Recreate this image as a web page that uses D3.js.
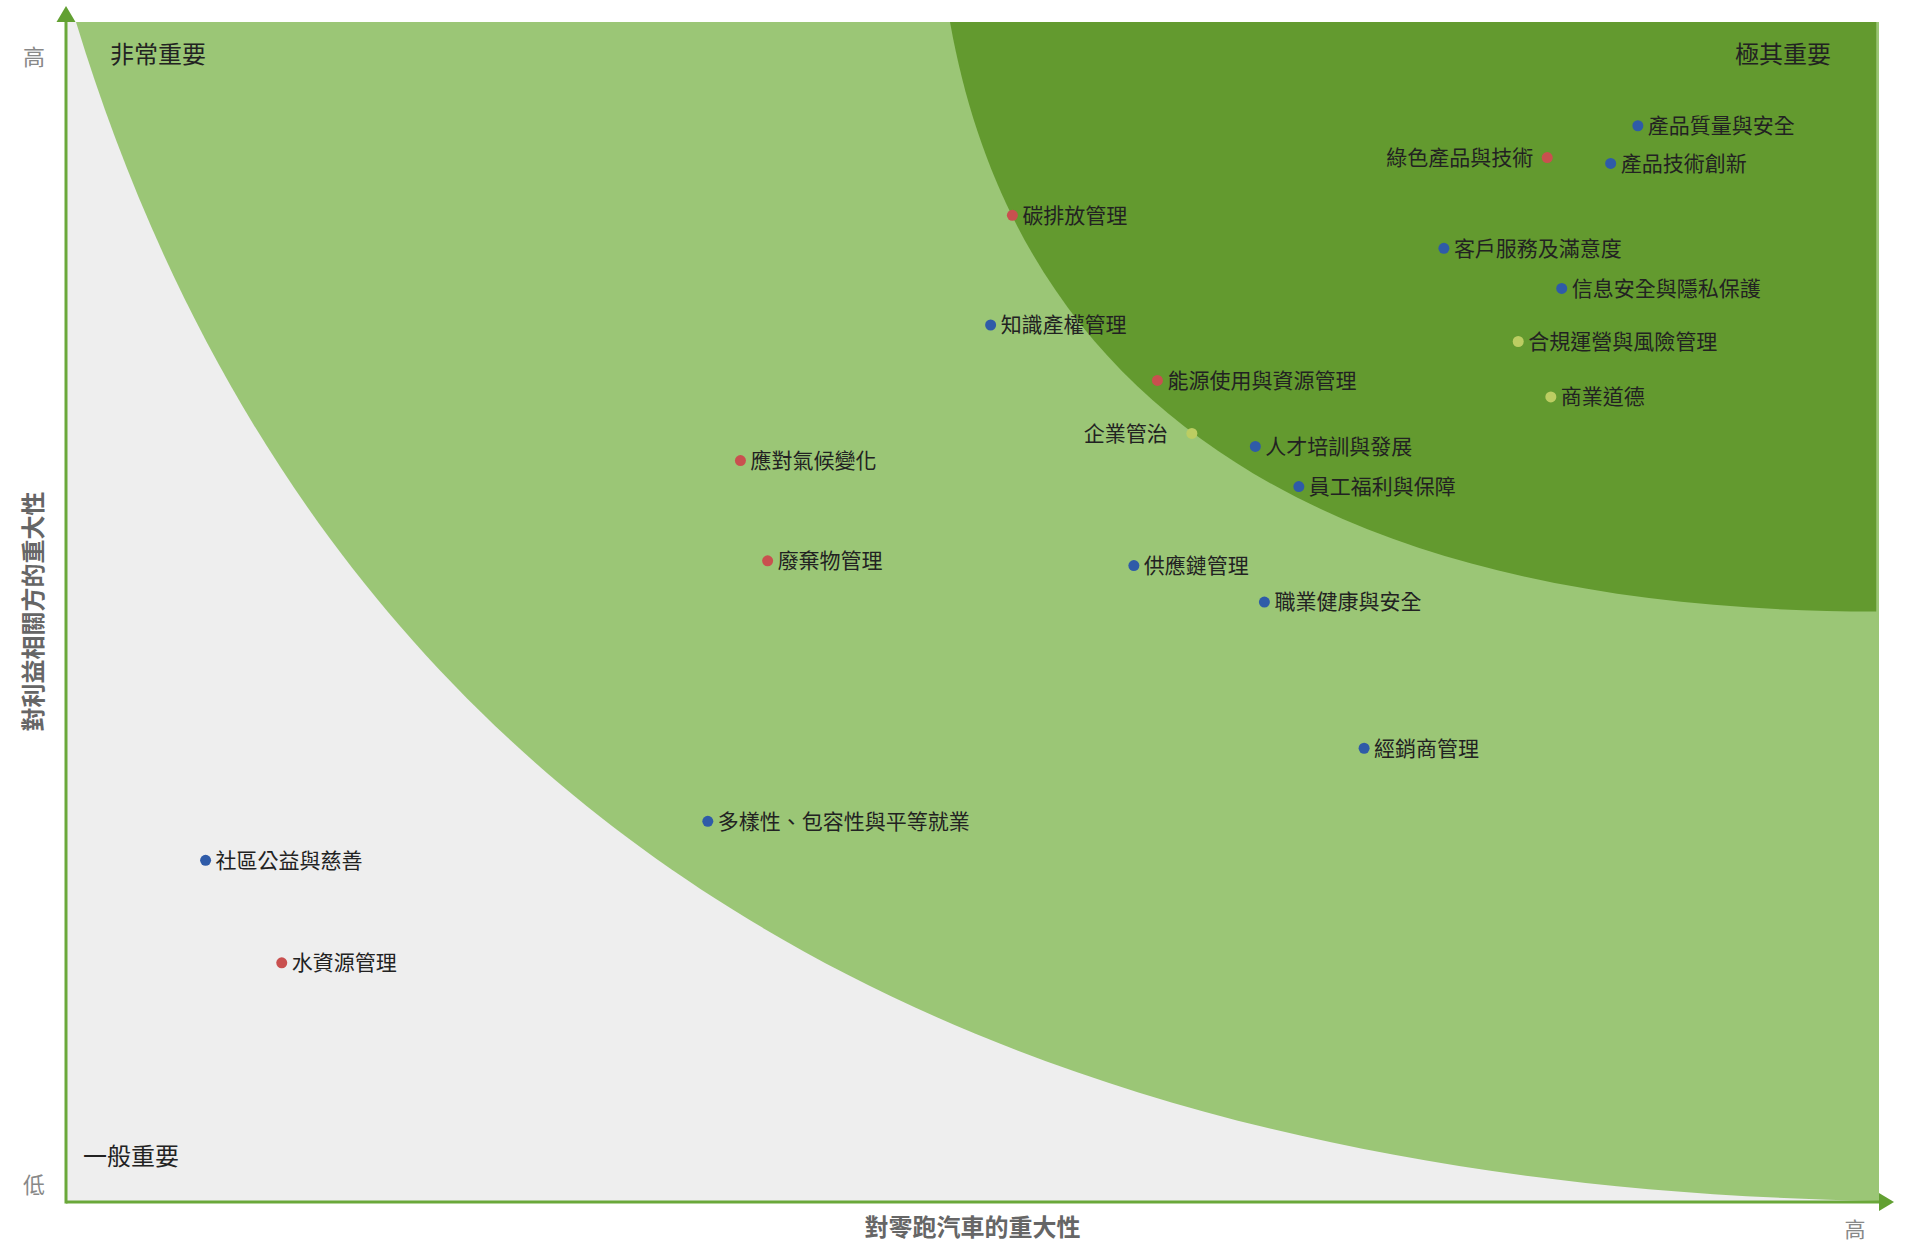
<!DOCTYPE html>
<html>
<head>
<meta charset="utf-8">
<script src="https://cdn.jsdelivr.net/npm/d3@7"></script>
<style>
  body { margin: 0; background: #fff; }
  text { font-family: "Noto Sans CJK TC", "Noto Sans", sans-serif; }
</style>
</head>
<body>
<svg id="grafico"></svg>
<script>
// temas e valores (escala 0-10 nos dois eixos)
const temas = [
  '產品質量與安全', '產品技術創新', '綠色產品與技術', '客戶服務及滿意度', '信息安全與隱私保護',
  '合規運營與風險管理', '商業道德', '碳排放管理', '知識產權管理', '能源使用與資源管理',
  '企業管治', '人才培訓與發展', '員工福利與保障', '應對氣候變化', '廢棄物管理',
  '供應鏈管理', '職業健康與安全', '經銷商管理', '多樣性、包容性與平等就業', '社區公益與慈善',
  '水資源管理'
];
const valoresX = [8.67, 8.52, 8.17, 7.60, 8.25, 8.01, 8.19, 5.22, 5.10, 6.02,
  6.21, 6.56, 6.80, 3.72, 3.87, 5.89, 6.61, 7.16, 3.54, 0.77, 1.19];
const valoresY = [9.12, 8.80, 8.85, 8.08, 7.74, 7.29, 6.82, 8.36, 7.43, 6.96,
  6.51, 6.40, 6.06, 6.28, 5.43, 5.39, 5.08, 3.84, 3.22, 2.89, 2.02];
// 0 = 經濟/社會, 1 = 環境, 2 = 管治
const grupos = [0, 0, 1, 0, 0, 2, 2, 1, 0, 1, 2, 0, 0, 1, 1, 0, 0, 0, 0, 0, 1];
const rotuloEsquerda = { '綠色產品與技術': -14, '企業管治': -24 };

// limites das zonas (curvas de Bézier: início, controle 1, controle 2, fim)
const limiteMuitoImportante = [[0.055, 10], [0.96, 5.44], [3.33, 0.18], [10, 0]];
const limiteExtremo = [[4.876, 10], [5.317, 6.18], [7.507, 5.0], [9.985, 5.0]];

const zonas = ['非常重要', '極其重要', '一般重要'];
const rotulosEixo = ['低', '高'];
const tituloX = '對零跑汽車的重大性';
const tituloY = '對利益相關方的重大性';

function criaGrafico(parametros) {
  const svg = d3.select('#grafico');
  const margem = { esquerda: 66, direita: 37, superior: 22, inferior: 43 };
  svg.attr('width', parametros.largura).attr('height', parametros.altura);

  const x = d3.scaleLinear().domain([0, 10]).range([margem.esquerda, parametros.largura - margem.direita]);
  const y = d3.scaleLinear().domain([0, 10]).range([parametros.altura - margem.inferior, margem.superior]);
  const cores = ['#2f5ba8', '#c9504f', '#bccd62'];

  // fundo
  svg.append('rect')
    .attr('x', x(0)).attr('y', y(10))
    .attr('width', x(10) - x(0)).attr('height', y(0) - y(10))
    .attr('fill', '#eeeeee');

  function zona(pts) {
    const p = d3.path();
    const [a, b, c, d] = pts;
    p.moveTo(x(a[0]), y(a[1]));
    p.bezierCurveTo(x(b[0]), y(b[1]), x(c[0]), y(c[1]), x(d[0]), y(d[1]));
    p.lineTo(x(d[0]), y(10));
    p.closePath();
    return p.toString();
  }

  svg.append('path').attr('d', zona(limiteMuitoImportante)).attr('fill', '#9bc676');
  svg.append('path').attr('d', zona(limiteExtremo)).attr('fill', '#639a2f');

  // eixos
  const corEixo = '#6aa83a';
  svg.append('line')
    .attr('x1', x(0)).attr('x2', x(10)).attr('y1', y(0) + 1).attr('y2', y(0) + 1)
    .attr('stroke', corEixo).attr('stroke-width', 3);
  svg.append('line')
    .attr('x1', x(0)).attr('x2', x(0)).attr('y1', y(0) + 2.5).attr('y2', y(10))
    .attr('stroke', corEixo).attr('stroke-width', 3);
  svg.append('path')
    .attr('d', `M${x(0) - 9.5},${y(10)}L${x(0)},${y(10) - 16}L${x(0) + 9.5},${y(10)}Z`)
    .attr('fill', '#62a032');
  svg.append('path')
    .attr('d', `M${x(10)},${y(0) + 1 - 9}L${x(10) + 15},${y(0) + 1}L${x(10)},${y(0) + 1 + 9}Z`)
    .attr('fill', '#62a032');

  // rótulos dos eixos
  svg.append('text').text(rotulosEixo[1])
    .attr('x', x(0) - 32).attr('y', y(10) + 35).attr('dy', '0.35em')
    .attr('font-size', 22).attr('fill', '#888').attr('text-anchor', 'middle');
  svg.append('text').text(rotulosEixo[0])
    .attr('x', x(0) - 32).attr('y', y(0) - 16).attr('dy', '0.35em')
    .attr('font-size', 22).attr('fill', '#888').attr('text-anchor', 'middle');
  svg.append('text').text(rotulosEixo[1])
    .attr('x', x(10) - 24).attr('y', y(0) + 29).attr('dy', '0.35em')
    .attr('font-size', 21).attr('fill', '#888').attr('text-anchor', 'middle');

  svg.append('text').text(tituloX)
    .attr('x', (x(0) + x(10)) / 2).attr('y', y(0) + 27).attr('dy', '0.35em')
    .attr('text-anchor', 'middle').attr('font-size', 24).attr('font-weight', 'bold').attr('fill', '#666');
  svg.append('text').text(tituloY)
    .attr('transform', `translate(34, ${(y(0) + y(10)) / 2}) rotate(-90)`)
    .attr('dy', '0.35em')
    .attr('text-anchor', 'middle').attr('font-size', 24).attr('font-weight', 'bold').attr('fill', '#666');

  // zonas
  svg.append('text').text(zonas[0])
    .attr('x', x(0) + 44).attr('y', y(10) + 33).attr('dy', '0.35em')
    .attr('font-size', 24).attr('fill', '#222');
  svg.append('text').text(zonas[1])
    .attr('x', x(10) - 48).attr('y', y(10) + 33).attr('dy', '0.35em')
    .attr('text-anchor', 'end').attr('font-size', 24).attr('fill', '#222');
  svg.append('text').text(zonas[2])
    .attr('x', x(0) + 17).attr('y', y(0) - 44).attr('dy', '0.35em')
    .attr('font-size', 24).attr('fill', '#222');

  // pontos
  const dados = temas.map((t, i) => ({ tema: t, x: valoresX[i], y: valoresY[i], grupo: grupos[i] }));

  svg.selectAll('.ponto')
    .data(dados)
    .enter()
    .append('circle')
    .classed('ponto', true)
    .attr('cx', d => x(d.x))
    .attr('cy', d => y(d.y))
    .attr('r', 5.5)
    .attr('fill', d => cores[d.grupo]);

  svg.selectAll('.rotulo')
    .data(dados)
    .enter()
    .append('text')
    .classed('rotulo', true)
    .text(d => d.tema)
    .attr('x', d => x(d.x))
    .attr('y', d => y(d.y))
    .attr('dx', d => rotuloEsquerda[d.tema] || 10)
    .attr('dy', '0.35em')
    .attr('text-anchor', d => rotuloEsquerda[d.tema] ? 'end' : 'start')
    .attr('font-size', 21)
    .attr('fill', '#222');
}

criaGrafico({ largura: 1916, altura: 1244 });
</script>
</body>
</html>
